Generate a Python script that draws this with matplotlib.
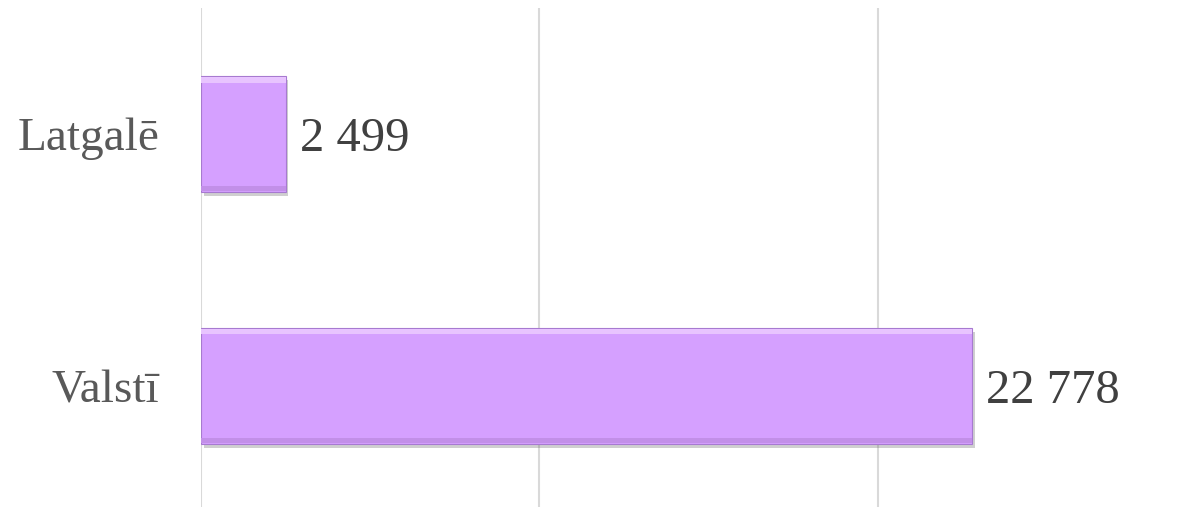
import matplotlib.pyplot as plt
import matplotlib.patheffects as pe

# dati
categorie = ['Valstī', 'Latgalē']
valori = [22778, 2499]
etichette = ['22 778', '2 499']

plt.rcParams['font.family'] = ['Liberation Serif', 'DejaVu Serif']

fig = plt.figure(figsize=(12.02, 5.07), dpi=100)
ax = fig.add_axes([0.1672, 0.0, 0.8328, 0.984])

pos = list(range(len(categorie)))
h = 0.46

# ombra + barra principale
bars = ax.barh(pos, valori, height=h, color='#D5A0FF', edgecolor='#A77AD0',
               linewidth=0.8, zorder=3)
for b in bars:
    b.set_path_effects([pe.SimplePatchShadow(offset=(2, -3), shadow_rgbFace='#777777', alpha=0.35),
                        pe.Normal()])

# effetto rilievo: bordo chiaro in alto, scuro in basso
for b in bars:
    x0, y0, w, hh = b.get_x(), b.get_y(), b.get_width(), b.get_height()
    ax.barh(y0 + hh - hh * 0.03, w, height=hh * 0.05, left=x0, color='#E8C4FF',
            linewidth=0, zorder=4)
    ax.barh(y0 + hh * 0.03, w, height=hh * 0.05, left=x0, color='#C28FE8',
            linewidth=0, zorder=4)

# etichette valori
for p, v, t in zip(pos, valori, etichette):
    ax.text(v + 420, p, t, va='center_baseline', ha='left', fontsize=35,
            color='#404040', zorder=5)

ax.set_xlim(0, 29572)
ax.set_ylim(-0.48, 1.5)
ax.set_xticks([0, 10000, 20000])
ax.xaxis.grid(True, color='#D9D9D9', linewidth=1.5, zorder=0)
ax.set_axisbelow(True)
ax.tick_params(axis='x', length=0, labelbottom=False)
ax.tick_params(axis='y', length=0, pad=30, labelsize=34, labelcolor='#595959')
ax.set_yticks(pos)
ax.set_yticklabels(categorie)
for s in ax.spines.values():
    s.set_visible(False)

plt.savefig('out.png', dpi=100)
